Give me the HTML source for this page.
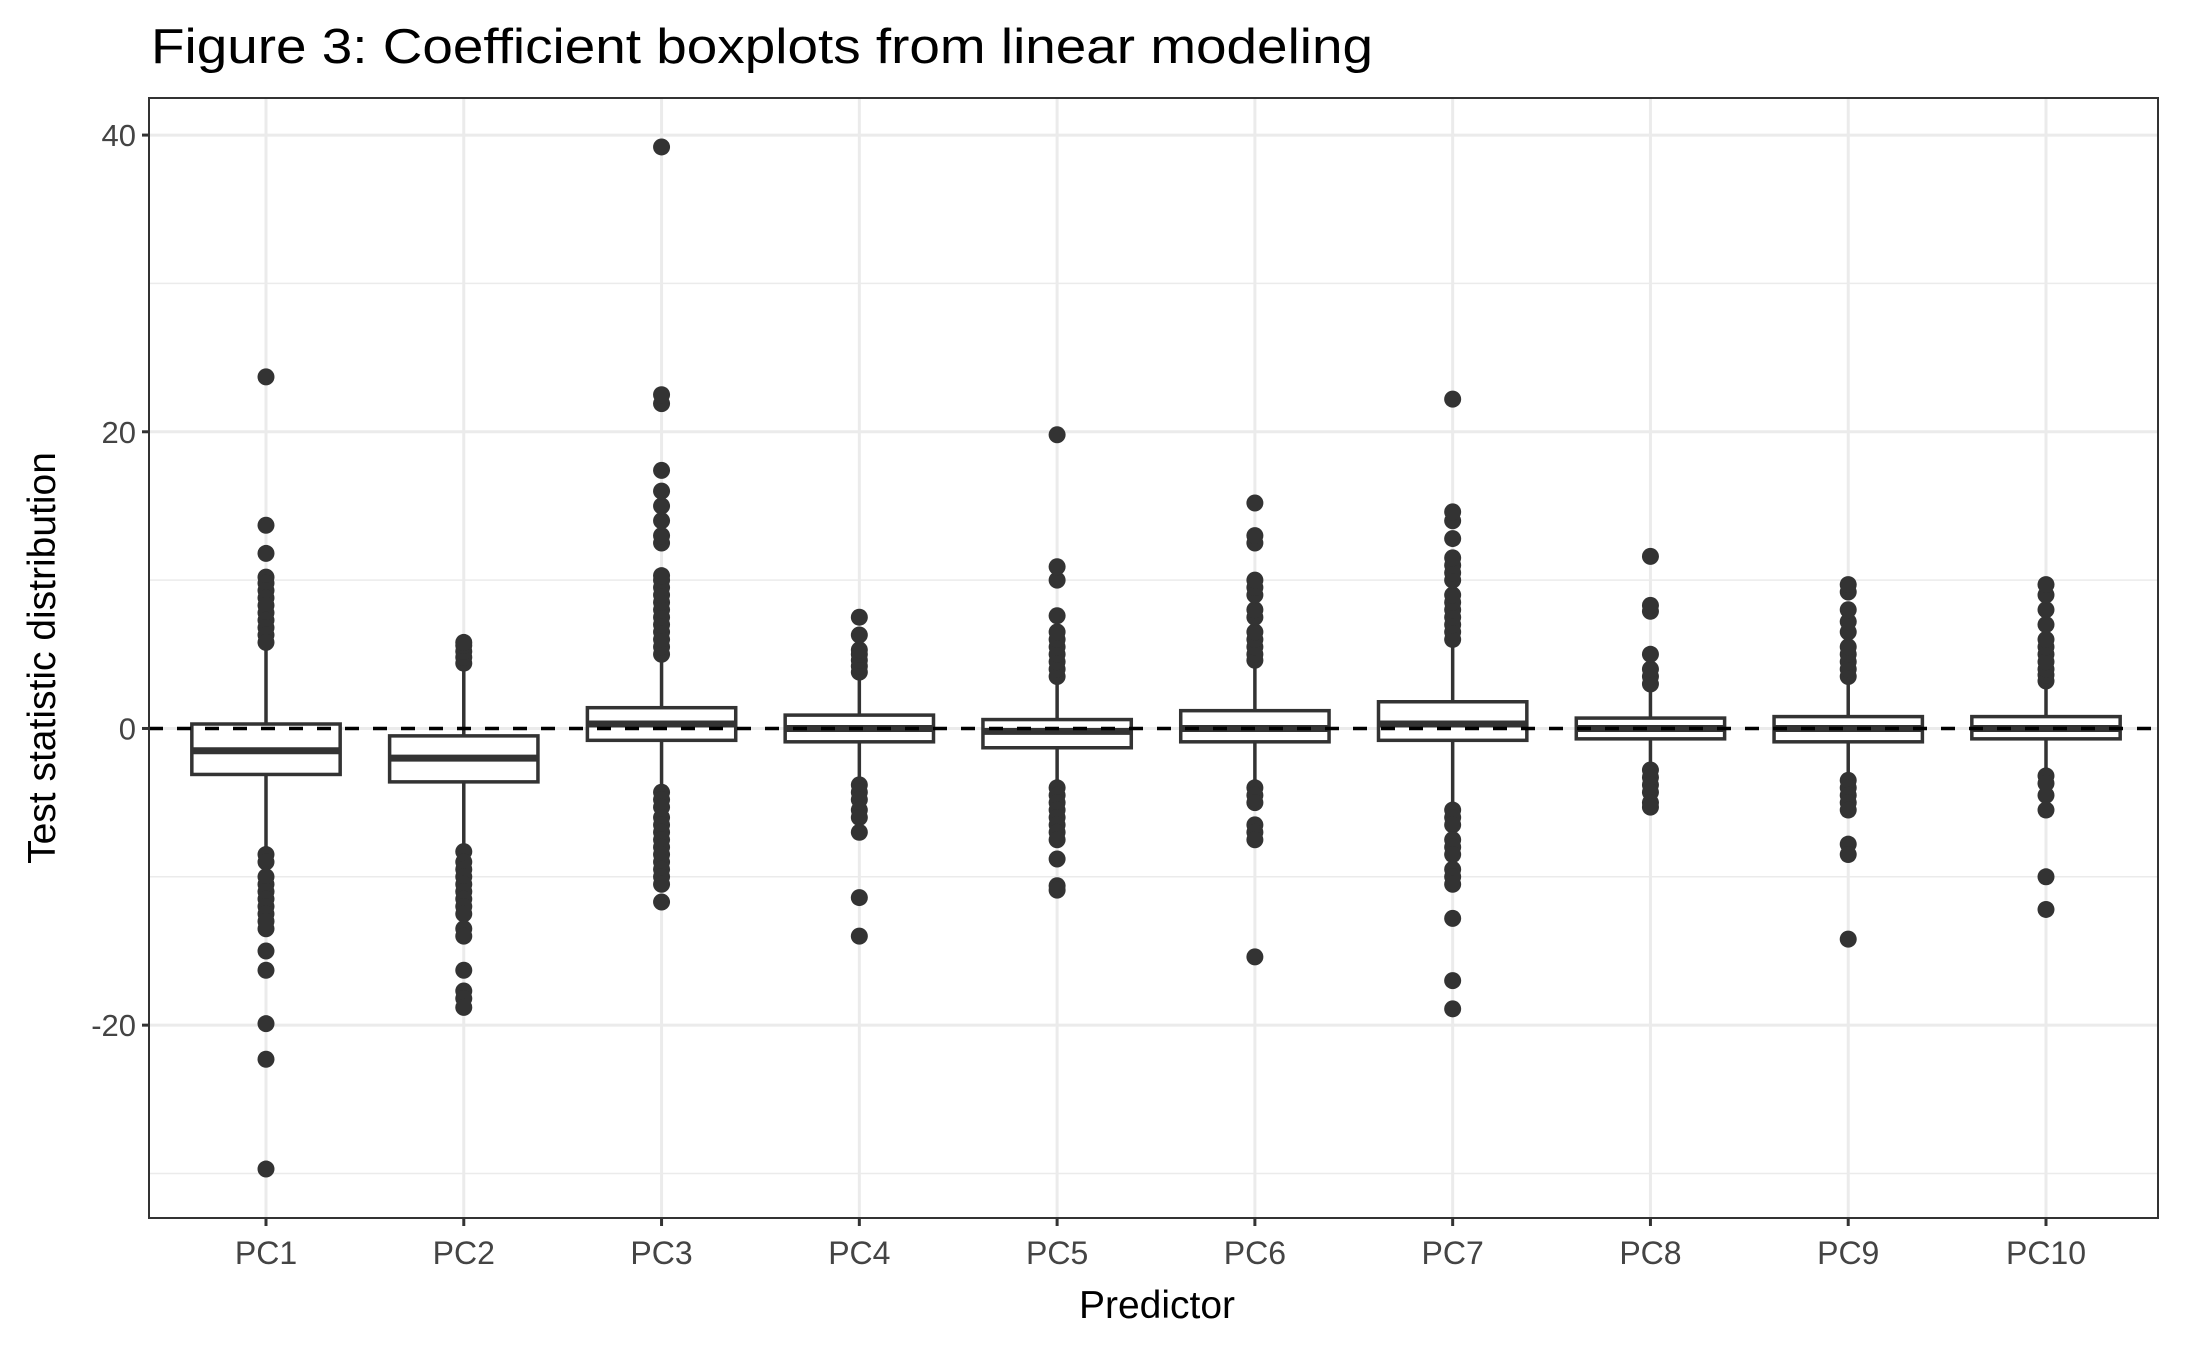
<!DOCTYPE html>
<html><head><meta charset="utf-8"><style>
html,body{margin:0;padding:0;background:#fff;}
svg{display:block;font-family:"Liberation Sans",Arial,sans-serif;}
</style></head><body>
<svg id="chart" width="2187" height="1350" viewBox="0 0 2187 1350">
<text x="151" y="63" font-size="49" fill="#000" textLength="1222" lengthAdjust="spacingAndGlyphs">Figure 3: Coefficient boxplots from linear modeling</text>
<g id="grid"></g>
<g id="marks"></g>
<rect x="149" y="98" width="2009" height="1120" fill="none" stroke="#333" stroke-width="2"/>
<g id="axes"></g>
<text x="1157" y="1318" font-size="39" text-anchor="middle" fill="#000">Predictor</text>
<text transform="translate(55,658) rotate(-90)" font-size="39" text-anchor="middle" fill="#000">Test statistic distribution</text>
</svg>
<script>
const categories = ["PC1","PC2","PC3","PC4","PC5","PC6","PC7","PC8","PC9","PC10"];
const q1 = [-3.1,-3.6,-0.8,-0.9,-1.3,-0.9,-0.8,-0.7,-0.9,-0.7];
const medians = [-1.5,-2.0,0.3,0.0,-0.2,0.0,0.3,0.0,0.0,0.0];
const q3 = [0.3,-0.5,1.4,0.9,0.6,1.2,1.8,0.7,0.8,0.8];
const whiskerLow = [-8.0,-8.0,-4.0,-3.5,-3.8,-3.8,-5.2,-2.6,-3.2,-3.0];
const whiskerHigh = [5.5,4.2,4.8,3.5,3.3,4.3,5.8,2.5,3.2,3.0];
const outliersPC1 = [23.7,13.7,11.8,10.2,9.8,9.3,8.8,8.3,7.8,7.3,6.8,6.3,5.8,-8.5,-9,-10,-10.5,-11,-11.5,-12,-12.5,-13,-13.5,-15,-16.3,-19.9,-22.3,-29.7];
const outliersPC2 = [4.4,4.8,5.2,5.6,5.8,-8.3,-9,-9.5,-10,-10.5,-11,-11.5,-12,-12.5,-13.5,-14,-16.3,-17.7,-18.2,-18.8];
const outliersPC3 = [5,5.5,6,6.5,7,7.5,8,8.5,9,9.5,10,10.3,12.5,13,14,15,16,17.4,21.9,22.5,39.2,-4.3,-4.8,-5.3,-6,-6.5,-7,-7.5,-8,-8.5,-9,-9.5,-10,-10.5,-11.7];
const outliersPC4 = [3.8,4.2,4.6,5,5.3,6.3,7.5,-3.8,-4.3,-4.8,-5.5,-6,-7,-11.4,-14];
const outliersPC5 = [3.5,4,4.5,5,5.5,6,6.5,7.6,10,10.9,19.8,-4,-4.5,-5,-5.5,-6,-6.5,-7,-7.5,-8.8,-10.6,-10.9];
const outliersPC6 = [4.6,5,5.5,6,6.5,7.5,8,9,9.5,10,12.5,13,15.2,-4,-4.5,-5,-6.5,-7,-7.5,-15.4];
const outliersPC7 = [6,6.5,7,7.5,8,8.5,9,10,10.5,11,11.5,12.8,14,14.6,22.2,-5.5,-6,-6.5,-7.5,-8,-8.5,-9.5,-10,-10.5,-12.8,-17,-18.9];
const outliersPC8 = [3,3.5,4,5,7.9,8.3,11.6,-2.8,-3.3,-3.8,-4.3,-5,-5.3];
const outliersPC9 = [3.5,4,4.5,5,5.5,6.5,7.2,8,9.2,9.7,-3.5,-4,-4.5,-5,-5.5,-7.8,-8.5,-14.2];
const outliersPC10 = [3.2,3.6,4,4.5,5,5.5,6,7,8,9,9.7,-3.2,-3.7,-4.5,-5.5,-10,-12.2];
const outliers = [outliersPC1,outliersPC2,outliersPC3,outliersPC4,outliersPC5,outliersPC6,outliersPC7,outliersPC8,outliersPC9,outliersPC10];
const yTicks = [-20,0,20,40];
const yMinor = [-30,-10,10,30];
const refLine = 0;

const NS = "http://www.w3.org/2000/svg";
const L = 149, R = 2158, T = 98, B = 1218;
const yMin = -33.0, yMax = 42.5;
function y(v){ return B - (v - yMin) / (yMax - yMin) * (B - T); }
const X0 = 266, X1 = 2046;
const step = (X1 - X0) / (categories.length - 1);
function x(i){ return X0 + step * i; }
const boxW = step * 0.75;

function mk(tag, attrs, parent){
  const el = document.createElementNS(NS, tag);
  for (const k in attrs) el.setAttribute(k, attrs[k]);
  parent.appendChild(el);
  return el;
}
const grid = document.getElementById('grid');
const marks = document.getElementById('marks');
const axes = document.getElementById('axes');

yMinor.forEach(v => {
  const ln = mk('line', {x1:L, x2:R, y1:y(v), y2:y(v), stroke:'#ebebeb', 'stroke-width':1.5}, grid);
  
  
});
yTicks.forEach(v => {
  const ln = mk('line', {x1:L, x2:R, y1:y(v), y2:y(v), stroke:'#ebebeb', 'stroke-width':3}, grid);
  
  
  const tk = mk('line', {x1:L-7, x2:L, y1:y(v), y2:y(v), stroke:'#333', 'stroke-width':3}, axes);
  
  
  const t = mk('text', {x:L-13, y:y(v)+11, 'font-size':31, 'text-anchor':'end', fill:'#444'}, axes);
  t.textContent = v;
  
  
});
categories.forEach((c, i) => {
  const ln = mk('line', {x1:x(i), x2:x(i), y1:T, y2:B, stroke:'#ebebeb', 'stroke-width':3}, grid);
  
  
  const tk = mk('line', {x1:x(i), x2:x(i), y1:B, y2:B+8, stroke:'#333', 'stroke-width':3}, axes);
  
  
  const t = mk('text', {x:x(i), y:B+46, 'font-size':32, 'text-anchor':'middle', fill:'#444'}, axes);
  t.textContent = c;
  
  
});

categories.forEach((c, i) => {
  const g = mk('g', {}, marks);
  
  
  const cx = x(i);
  const w1 = mk('line', {x1:cx, x2:cx, y1:y(q3[i]), y2:y(whiskerHigh[i]), stroke:'#333', 'stroke-width':3.5}, g);
  
  
  const w2 = mk('line', {x1:cx, x2:cx, y1:y(q1[i]), y2:y(whiskerLow[i]), stroke:'#333', 'stroke-width':3.5}, g);
  
  
  const rc = mk('rect', {x:cx-boxW/2, y:y(q3[i]), width:boxW, height:y(q1[i])-y(q3[i]), fill:'#fff', stroke:'#333', 'stroke-width':3.5}, g);
  
  
  const md = mk('line', {x1:cx-boxW/2, x2:cx+boxW/2, y1:y(medians[i]), y2:y(medians[i]), stroke:'#333', 'stroke-width':7}, g);
  
  
  outliers[i].forEach(v => {
    const p = mk('circle', {cx:cx, cy:y(v), r:8.5, fill:'#333'}, g);
    
    
  });
});
const ref = mk('line', {x1:L, x2:R, y1:y(refLine), y2:y(refLine), stroke:'#000', 'stroke-width':3.5, 'stroke-dasharray':'14 14'}, marks);


</script>
</body></html>
